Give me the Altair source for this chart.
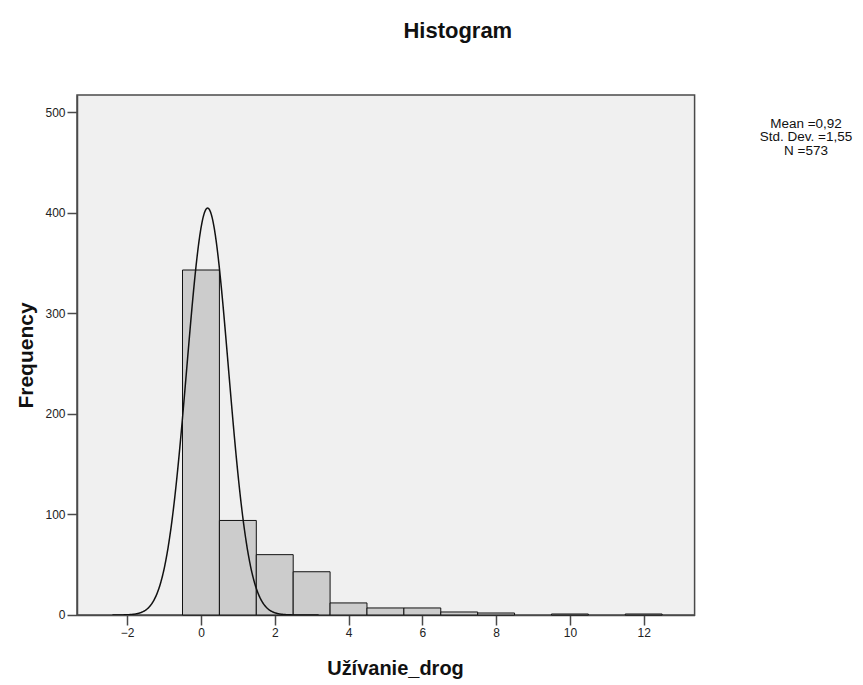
import altair as alt
import pandas as pd

# Histogram bins (unit width, centered on integers)
bin_centers = [0, 1, 2, 3, 4, 5, 6, 7, 8, 10, 12]
counts = [343, 94, 60, 43, 12, 7, 7, 3, 2, 1, 1]

# Normal curve as drawn in the picture (centre, spread, total N)
curve_mu = 0.18
curve_sd = 0.565
n_total = 573
bin_width = 1.0

stats_lines = ["Mean =0,92", "Std. Dev. =1,55", "N =573"]

x_ticks = [-2, 0, 2, 4, 6, 8, 10, 12]
y_ticks = [0, 100, 200, 300, 400, 500]

bars = pd.DataFrame({
    "start": [c - bin_width / 2 for c in bin_centers],
    "end": [c + bin_width / 2 for c in bin_centers],
    "count": counts,
})

FONT = "Liberation Sans"
xscale = alt.Scale(domain=[-3.36, 13.38], nice=False, zero=False)
yscale = alt.Scale(domain=[0, 517], nice=False)

xaxis = alt.Axis(values=x_ticks, title="Užívanie_drog", grid=False,
                 tickSize=10, labelFontSize=12, labelPadding=3,
                 titleFontSize=20, titleFontWeight="bold", titlePadding=20,
                 titleX=318, titleAlign="center", labelFlush=False)
yaxis = alt.Axis(values=y_ticks, title="Frequency", grid=False,
                 tickSize=10, labelFontSize=12, labelPadding=2,
                 titleFontSize=21, titleFontWeight="bold", titlePadding=8)

hist = alt.Chart(bars).mark_rect(
    fill="#cccccc", stroke="#111111", strokeWidth=1
).encode(
    x=alt.X("start:Q", scale=xscale, axis=xaxis),
    x2="end:Q",
    y=alt.Y("count:Q", scale=yscale, axis=yaxis),
    y2=alt.datum(0),
)

curve = alt.Chart(alt.sequence(start=-2.4, stop=3.2, step=0.01, as_="v")).transform_calculate(
    f=f"{n_total * bin_width} / ({curve_sd} * sqrt(2*PI)) * exp(-0.5 * pow((datum.v - {curve_mu}) / {curve_sd}, 2))"
).mark_line(color="#111111", strokeWidth=1.5, clip=True).encode(
    x=alt.X("v:Q", scale=xscale),
    y=alt.Y("f:Q", scale=yscale),
)

stats = alt.Chart(pd.DataFrame({"t": ["\n".join(stats_lines)]})).mark_text(
    align="center", baseline="top", fontSize=13.5, lineHeight=13.5,
    lineBreak="\n", color="#111111", font=FONT
).encode(
    x=alt.value(729), y=alt.value(22), text="t:N"
)

chart = alt.layer(hist, curve, stats).properties(
    width=617.6, height=520,
    title=alt.TitleParams("Histogram", fontSize=22, fontWeight="bold",
                          anchor="middle", offset=52, dx=72, font=FONT,
                          color="#111111"),
    autosize=alt.AutoSizeParams(type="none"),
    padding={"left": 77, "top": 95, "right": 168, "bottom": 70},
).configure(
    font=FONT,
    background="white",
).configure_view(
    fill="#f0f0f0", stroke="#4a4a4a", strokeWidth=1.5,
).configure_axis(
    domainColor="#4a4a4a", domainWidth=1.5, tickColor="#4a4a4a", tickWidth=1.5,
    labelColor="#222222", titleColor="#111111", labelFont=FONT, titleFont=FONT,
)

chart.save("out.html", embed_options={"renderer": "svg", "actions": False})
